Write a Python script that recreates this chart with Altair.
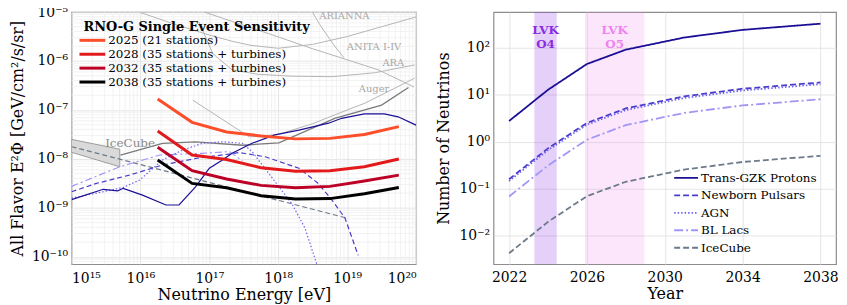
import altair as alt
import numpy as np
import pandas as pd

FONT = "DejaVu Serif"

# ---------------- Left panel (values given as log10 of E [eV] and of E^2*Phi) ----------------
rno_logE = [16.25, 16.75, 17.25, 17.75, 18.25, 18.75, 19.25, 19.75]
rno_2025 = [-6.775, -7.252, -7.45, -7.53, -7.59, -7.58, -7.50, -7.34]
rno_2028 = [-7.43, -7.92, -8.01, -8.18, -8.25, -8.24, -8.16, -8.00]
rno_2032 = [-7.76, -8.24, -8.41, -8.54, -8.59, -8.56, -8.45, -8.33]
rno_2038 = [-8.02, -8.50, -8.59, -8.75, -8.82, -8.81, -8.71, -8.585]
rno_labels = ["2025 (21 stations)", "2028 (35 stations + turbines)",
              "2032 (35 stations + turbines)", "2038 (35 stations + turbines)"]
rno_colors = ["#fc4e2a", "#e31a1c", "#bd0026", "#000000"]

gzk_logE = [15.0, 15.46, 15.67, 15.75, 16.03, 16.37, 16.56, 16.80, 17.0, 17.19, 17.33, 17.62,
            17.95, 18.30, 18.73, 18.92, 19.25, 19.54, 19.74, 20.0]
gzk_logF = [-8.83, -8.62, -8.65, -8.60, -8.74, -8.94, -8.94, -8.57, -8.19, -8.02, -7.885, -7.68,
            -7.51, -7.41, -7.27, -7.17, -7.08, -7.08, -7.14, -7.31]
psr_logE = [15.0, 15.36, 15.84, 16.32, 16.80, 17.29, 17.43, 17.81, 18.30, 18.58, 18.78, 18.97, 19.16]
psr_logF = [-8.67, -8.50, -8.33, -8.125, -7.99, -7.90, -7.87, -7.955, -8.19, -8.50, -8.84, -9.21, -9.97]
agn_logE = [15.0, 15.36, 15.75, 15.99, 16.32, 16.61, 16.90, 17.19, 17.48, 17.62, 17.81, 18.0,
            18.2, 18.39, 18.56]
agn_logF = [-8.80, -8.70, -8.58, -8.43, -8.02, -7.82, -7.68, -7.65, -7.68, -7.85, -8.2, -8.55,
            -8.92, -9.42, -10.15]
bll_logE = [15.0, 15.7, 16.28, 16.90, 17.29, 17.48]
bll_logF = [-8.56, -8.16, -7.92, -7.885, -7.85, -8.04]
icfit_logE = [15.0, 19.0]
icfit_logF = [-7.75, -9.21]
icband_logE = [15.0, 15.7]
icband_top = [-7.60, -7.80]
icband_bot = [-7.865, -8.16]

# background experimental limits
arianna_logE = [16.0, 16.5, 17.0, 17.34, 17.6, 18.0, 18.5, 19.0, 19.5, 20.0]
arianna_logF = [-5.01, -5.25, -5.47, -5.60, -5.68, -5.74, -5.66, -5.50, -5.30, -5.10]
anita_logE = [16.51, 17.2, 17.9, 18.5, 18.9, 19.45, 19.97]
anita_logF = [-4.80, -5.13, -5.46, -5.75, -5.93, -6.18, -6.53]
arianna2_logE = [18.39, 18.6, 18.8, 18.95]
arianna2_logF = [-4.75, -5.25, -5.66, -5.93]
ara_logE = [16.85, 17.05, 17.33, 17.7, 18.2, 18.78, 19.4, 19.98]
ara_logF = [-5.20, -5.85, -6.18, -6.27, -6.31, -6.32, -6.24, -6.08]
auger_logE = [16.76, 17.58, 18.0, 18.5, 19.0, 19.26, 19.98]
auger_logF = [-6.80, -7.55, -7.50, -7.28, -7.0, -6.86, -6.35]
ehe_logE = [15.71, 16.32, 16.80, 17.48, 18.01, 18.82, 19.50, 19.89]
ehe_logF = [-7.92, -7.68, -7.65, -7.72, -7.67, -7.17, -6.90, -6.54]

lab_text = ["ARIANNA", "ANITA I-IV", "ARA", "Auger"]
lab_logE = [18.96, 19.39, 19.67, 19.39]
lab_logF = [-5.09, -5.705, -6.045, -6.58]
ic_lab_logE = [15.85]
ic_lab_logF = [-7.67]

# ---------------- Right panel ----------------
years = [2022, 2024, 2026, 2028, 2031, 2034, 2038]
n_gzk = [2.75, 12.7, 45, 91, 165, 240, 325]
n_psr = [0.158, 0.72, 2.5, 5.1, 9.2, 13.4, 18.2]
n_agn = [0.145, 0.66, 2.3, 4.7, 8.5, 12.3, 16.7]
n_bll = [0.068, 0.31, 1.1, 2.25, 4.1, 5.9, 8.0]
n_ice = [0.0042, 0.0196, 0.069, 0.14, 0.254, 0.37, 0.50]
model_names = ["Trans-GZK Protons", "Newborn Pulsars", "AGN", "BL Lacs", "IceCube"]
model_colors = ["#1b0f96", "#4a3dcc", "#6f64ee", "#a196f8", "#6c7a89"]
model_dash = [[1, 0], [6, 3], [1.5, 2], [9, 3, 2, 3], [6, 3]]
model_width = [1.8, 1.8, 1.8, 1.8, 2.2]
lvk_runs = ["O4", "O5"]
lvk_start = [2023.3, 2025.9]
lvk_end = [2024.45, 2028.95]
lvk_colors = ["#8a2be2", "#ee82ee"]
lvk_alpha = [0.22, 0.2]


def p10(a):
    return 10 ** np.asarray(a, dtype=float)


sup = str.maketrans("0123456789-", "⁰¹²³⁴⁵⁶⁷⁸⁹⁻")


def pow_expr(exps):
    s = ""
    for n in exps:
        s += f"round(log(datum.value)/LN10) == {n} ? '10{str(n).translate(sup)}' : "
    return s + "''"


LINE_SYM = "M-2,0L2,0"

# ---------- dataframes left ----------
rno_df = pd.concat([
    pd.DataFrame({"E": p10(rno_logE), "F": p10(v), "config": lab, "order": i})
    for i, (v, lab) in enumerate(zip([rno_2025, rno_2028, rno_2032, rno_2038], rno_labels))
])

xs = alt.Scale(type="log", domain=[1e15, 1e20], nice=False)
ys = alt.Scale(type="log", domain=[10 ** -10.15, 1e-5], nice=False)

x_major = [1e15, 1e16, 1e17, 1e18, 1e19, 1e20]
y_major = [1e-10, 1e-9, 1e-8, 1e-7, 1e-6, 1e-5]
x_axis = alt.Axis(values=x_major, labelExpr=pow_expr(range(15, 21)), title="Neutrino Energy [eV]",
                  grid=True, titlePadding=2, labelPadding=7)
y_axis = alt.Axis(values=y_major, labelExpr=pow_expr(range(-10, -4)),
                  title="All Flavor E²Φ [GeV/cm²/s/sr]", grid=True, titlePadding=6, labelPadding=4)

minor_x = [k * 10.0 ** n for n in range(15, 20) for k in range(2, 10)]
minor_y = [k * 10.0 ** n for n in range(-11, -5) for k in range(2, 10)
           if 10 ** -10.15 < k * 10.0 ** n < 1e-5]

gx = alt.Chart(pd.DataFrame({"v": minor_x})).mark_rule(color="#efefef", strokeWidth=0.8).encode(
    x=alt.X("v:Q", scale=xs, axis=x_axis))
gy = alt.Chart(pd.DataFrame({"v": minor_y})).mark_rule(color="#efefef", strokeWidth=0.8).encode(
    y=alt.Y("v:Q", scale=ys, axis=y_axis))


def line_layer(logE, logF, color, dash=None, width=1.2, opacity=1.0):
    df = pd.DataFrame({"E": p10(logE), "F": p10(logF)})
    kw = dict(color=color, strokeWidth=width, clip=True, opacity=opacity)
    if dash is not None:
        kw["strokeDash"] = dash
    return alt.Chart(df).mark_line(**kw).encode(
        x=alt.X("E:Q", scale=xs), y=alt.Y("F:Q", scale=ys))


band_df = pd.DataFrame({"E": p10(icband_logE), "top": p10(icband_top), "bot": p10(icband_bot)})
band = alt.Chart(band_df).mark_area(color="#d9d9d9", stroke="#8a8a8a", strokeWidth=0.8,
                                    clip=True).encode(
    x=alt.X("E:Q", scale=xs), y=alt.Y("top:Q", scale=ys), y2="bot:Q")

lims = [
    line_layer(arianna_logE, arianna_logF, "#b4b4b4", width=1.0),
    line_layer(anita_logE, anita_logF, "#b4b4b4", width=1.0),
    line_layer(arianna2_logE, arianna2_logF, "#b4b4b4", width=1.0),
    line_layer(ara_logE, ara_logF, "#b4b4b4", width=1.0),
    line_layer(auger_logE, auger_logF, "#b4b4b4", width=1.0),
    line_layer(ehe_logE, ehe_logF, "#7a7a7a", width=1.3),
]
models = [
    line_layer(icfit_logE, icfit_logF, "#6c7a89", dash=[5, 3], width=1.2),
    line_layer(bll_logE, bll_logF, "#a196f8", dash=[7, 3, 2, 3], width=1.2),
    line_layer(agn_logE, agn_logF, "#6f64ee", dash=[1.5, 2], width=1.2),
    line_layer(psr_logE, psr_logF, "#4a3dcc", dash=[5, 3], width=1.2),
    line_layer(gzk_logE, gzk_logF, "#1b0f96", width=1.2),
]

rno = alt.Chart(rno_df).mark_line(clip=True).encode(
    x=alt.X("E:Q", scale=xs), y=alt.Y("F:Q", scale=ys),
    color=alt.Color("config:N", scale=alt.Scale(domain=rno_labels, range=rno_colors),
                    legend=alt.Legend(title="RNO-G Single Event Sensitivity", orient="none",
                                      legendX=12, legendY=9, symbolType=LINE_SYM,
                                      symbolSize=169, symbolStrokeWidth=3.2, symbolOffset=1,
                                      labelFontSize=12, titleFontSize=13, titleFontWeight="bold",
                                      labelFont=FONT, titleFont=FONT, rowPadding=0,
                                      titlePadding=-1.5, padding=0, labelOffset=8,
                                      labelLimit=400, titleLimit=400)),
    strokeWidth=alt.StrokeWidth("config:N", scale=alt.Scale(domain=rno_labels,
                                                             range=[3, 3, 3, 3.8]), legend=None),
    detail="order:N",
)

lab_df = pd.DataFrame({"E": p10(lab_logE), "F": p10(lab_logF), "t": lab_text})
labs = alt.Chart(lab_df).mark_text(font=FONT, fontSize=10, color="#a8a8a8").encode(
    x=alt.X("E:Q", scale=xs), y=alt.Y("F:Q", scale=ys), text="t:N")
ic_lab = alt.Chart(pd.DataFrame({"E": p10(ic_lab_logE), "F": p10(ic_lab_logF), "t": ["IceCube"]})
                   ).mark_text(font=FONT, fontSize=12, color="#8a8a8a").encode(
    x=alt.X("E:Q", scale=xs), y=alt.Y("F:Q", scale=ys), text="t:N")

left = alt.layer(gx, gy, band, *lims, *models, rno, labs, ic_lab).properties(width=347, height=254)

# ---------- right panel ----------
rows = []
for name, vals in zip(model_names, [n_gzk, n_psr, n_agn, n_bll, n_ice]):
    for yr, v in zip(years, vals):
        rows.append({"year": yr, "N": v, "model": name})
rdf = pd.DataFrame(rows)

rxs = alt.Scale(domain=[2021.2, 2038.8], nice=False, zero=False)
rys = alt.Scale(type="log", domain=[10 ** -2.61, 10 ** 2.76], nice=False)

bands_r = []
for s, e, c, a in zip(lvk_start, lvk_end, lvk_colors, lvk_alpha):
    bands_r.append(alt.Chart(pd.DataFrame({"s": [s], "e": [e]})).mark_rect(color=c, opacity=a).encode(
        x=alt.X("s:Q", scale=rxs,
                axis=alt.Axis(values=[2022, 2026, 2030, 2034, 2038], format="d", title="Year",
                              grid=True, titlePadding=2, labelPadding=6)),
        x2="e:Q"))

lvk_txt_rows = []
for r, s, e, c in zip(lvk_runs, lvk_start, lvk_end, lvk_colors):
    lvk_txt_rows.append({"x": (s + e) / 2, "y": 240, "t": "LVK", "c": c})
    lvk_txt_rows.append({"x": (s + e) / 2, "y": 122, "t": r, "c": c})
lvk_txt = alt.Chart(pd.DataFrame(lvk_txt_rows)).mark_text(font=FONT, fontSize=12,
                                                          fontWeight="bold").encode(
    x=alt.X("x:Q", scale=rxs), y=alt.Y("y:Q", scale=rys), text="t:N",
    fill=alt.Fill("c:N", scale=None))

rlines = alt.Chart(rdf).mark_line().encode(
    x=alt.X("year:Q", scale=rxs),
    y=alt.Y("N:Q", scale=rys,
            axis=alt.Axis(values=[0.01, 0.1, 1, 10, 100], labelExpr=pow_expr(range(-2, 3)),
                          title="Number of Neutrinos", grid=True, titlePadding=8, labelPadding=4)),
    color=alt.Color("model:N", scale=alt.Scale(domain=model_names, range=model_colors),
                    legend=alt.Legend(title=None, orient="none", legendX=181, legendY=160,
                                      symbolType=LINE_SYM, symbolSize=144, symbolStrokeWidth=2,
                                      symbolOffset=6, labelFontSize=12, labelFont=FONT,
                                      rowPadding=4.6, padding=0, labelOffset=8, labelLimit=300)),
    strokeDash=alt.StrokeDash("model:N", scale=alt.Scale(domain=model_names, range=model_dash)),
    strokeWidth=alt.StrokeWidth("model:N", scale=alt.Scale(domain=model_names, range=model_width),
                                legend=None),
)

right = alt.layer(*bands_r, lvk_txt, rlines).properties(width=345, height=254)

chart = alt.hconcat(left, right, spacing=78, bounds="flush").resolve_scale(
    color="independent", strokeDash="independent", strokeWidth="independent", fill="independent"
).resolve_legend(color="independent", strokeDash="independent").properties(
    padding={"left": 0, "top": -5, "right": 0, "bottom": 0}
).configure_view(stroke="#8c8c8c", strokeWidth=1.2).configure_axis(
    labelFont=FONT, titleFont=FONT, labelFontSize=14, titleFontSize=16, labelColor="#000",
    titleColor="#000", titleFontWeight="normal", gridColor="#dedede", gridWidth=0.8,
    domain=False, ticks=False
).configure_legend(labelColor="#000", titleColor="#000")

chart.save("out.html", embed_options={"renderer": "svg", "actions": False})
